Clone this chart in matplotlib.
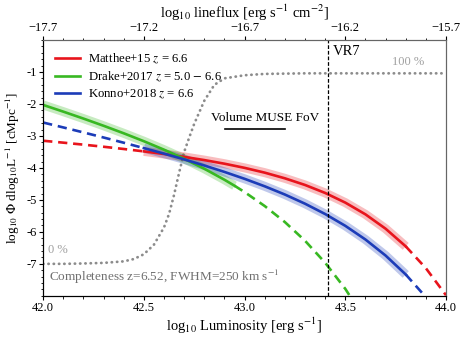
import numpy as np
import matplotlib
matplotlib.use("Agg")
import matplotlib.pyplot as plt
from matplotlib.ticker import MultipleLocator

plt.rcParams['font.family'] = 'serif'
plt.rcParams['font.serif'] = ['Liberation Serif', 'DejaVu Serif']
plt.rcParams['mathtext.fontset'] = 'stix'

# luminosity grid (log10 L) where the curves were read
lum = [42.0, 42.1, 42.2, 42.3, 42.4, 42.5, 42.6, 42.7, 42.8, 42.9, 43.0,
       43.1, 43.2, 43.3, 43.4, 43.5, 43.6, 43.7, 43.8, 43.9, 44.0]

# log10 Phi
matthee = [-3.150, -3.210, -3.272, -3.338, -3.408, -3.483, -3.565, -3.655,
           -3.755, -3.868, -3.998, -4.148, -4.325, -4.533, -4.783, -5.085,
           -5.452, -5.901, -6.453, -7.136, -7.982]
konno = [-2.580, -2.734, -2.890, -3.049, -3.212, -3.380, -3.553, -3.733,
         -3.923, -4.125, -4.341, -4.575, -4.832, -5.119, -5.442, -5.811,
         -6.239, -6.740, -7.332, -8.041, -8.895]

lum_drake = [42.0, 42.1, 42.2, 42.3, 42.4, 42.5, 42.6, 42.7, 42.8, 42.9,
             42.95, 43.0, 43.1, 43.2, 43.3, 43.4, 43.5, 43.6]
drake = [-2.030, -2.240, -2.457, -2.682, -2.917, -3.165, -3.430, -3.715,
         -4.026, -4.370, -4.557, -4.755, -5.192, -5.693, -6.277, -6.965,
         -7.782, -8.763]

# completeness curve (fraction), drawn scaled between -7 (0 %) and -1 (100 %)
lum_comp = [42.0, 42.1, 42.2, 42.3, 42.4, 42.45, 42.5, 42.55, 42.6, 42.625,
            42.65, 42.675, 42.7, 42.725, 42.75, 42.775, 42.8, 42.85, 42.9,
            43.0, 43.1, 43.3, 44.0]
completeness = [0.0, 0.0, 0.002, 0.005, 0.013, 0.025, 0.05, 0.10, 0.19, 0.26,
                0.36, 0.475, 0.583, 0.658, 0.73, 0.79, 0.85, 0.933, 0.967,
                0.983, 0.99, 0.993, 0.993]

vr7_lum = 43.415
flux_offset = 59.7

series = [
    ("Matthee+15 $z$ = 6.6", lum, matthee, '#e8141c', (42.5, 43.8)),
    ("Drake+2017 $z$ = 5.0 $-$ 6.6", lum_drake, drake, '#38b822', (42.0, 42.95)),
    ("Konno+2018 $z$ = 6.6", lum, konno, '#1c3cb8', (42.5, 43.8)),
]

fig = plt.figure(figsize=(4.69, 3.42), dpi=100)
ax = fig.add_axes([0.092, 0.135, 0.859, 0.748])

for label, x, y, col, (lo, hi) in series:
    x = np.array(x)
    y = np.array(y)
    solid = (x >= lo - 1e-9) & (x <= hi + 1e-9)
    low = x <= lo + 1e-9
    high = x >= hi - 1e-9
    ax.plot(x[solid], y[solid], color=col, lw=6.5, alpha=0.28,
            solid_capstyle='butt', zorder=2)
    ax.plot(x[solid], y[solid], color=col, lw=1.9, label=label, zorder=3)
    if low.sum() > 1:
        ax.plot(x[low], y[low], color=col, lw=1.9, ls=(0, (3.5, 2.2)), zorder=3)
    if high.sum() > 1:
        ax.plot(x[high], y[high], color=col, lw=1.9, ls=(0, (3.5, 2.2)), zorder=3)

comp_y = [6 * c - 7 for c in completeness]
ax.plot(lum_comp, comp_y, color='#8c8c8c', lw=2.0, ls=(0, (0.1, 1.8)),
        dash_capstyle='round', zorder=1)

ax.axvline(vr7_lum, color='k', lw=0.9, ls=(0, (3, 1.5)), zorder=4)
ax.text(43.44, -0.37, "VR7", fontsize=10.5, va='center', ha='left')
ax.text(43.81, -0.68, "100 %", fontsize=9, color='#a0a0a0', va='center', ha='center')
ax.text(42.025, -6.58, "0 %", fontsize=9, color='#a0a0a0', va='center', ha='left')
ax.text(42.03, -7.40, "Completeness z=6.52, FWHM=250 km s$^{-1}$", fontsize=9.5,
        color='#707070', va='center', ha='left')
ax.text(43.1, -2.45, "Volume MUSE FoV", fontsize=9.5, va='center', ha='center')
ax.plot([42.903, 43.201], [-2.78, -2.78], color='k', lw=1.2)

ax.set_xlim(42.0, 44.0)
ax.set_ylim(-8, 0)
ax.set_xticks([42.0, 42.5, 43.0, 43.5, 44.0])
ax.set_xticklabels(["42.0", "42.5", "43.0", "43.5", "44.0"])
ax.xaxis.set_minor_locator(MultipleLocator(0.1))
ax.set_yticks([-1, -2, -3, -4, -5, -6, -7])
ax.set_yticklabels(["-1", "-2", "-3", "-4", "-5", "-6", "-7"])
ax.yaxis.set_minor_locator(MultipleLocator(0.2))
ax.tick_params(labelsize=9, direction='out', length=3, pad=1.5)
ax.tick_params(which='minor', length=1.8)
ax.tick_params(top=False, right=False)
ax.spines['top'].set_color('#666666')
ax.spines['right'].set_color('#666666')

ax.set_xlabel("log$_{10}$ Luminosity [erg s$^{-1}$]", fontsize=10.5, labelpad=1)
ax.set_ylabel("log$_{10}$ $\\Phi$ dlog$_{10}$L$^{-1}$ [cMpc$^{-1}$]", fontsize=9.5,
              labelpad=3)

# lineflux axis on top: same scale, shifted by the distance modulus
top = ax.twiny()
top.set_xlim(42.0 - flux_offset, 44.0 - flux_offset)
top.set_xticks([-17.7, -17.2, -16.7, -16.2, -15.7])
top.xaxis.set_minor_locator(MultipleLocator(0.1))
top.tick_params(labelsize=9, direction='out', length=3, pad=1.5)
top.tick_params(which='minor', length=1.8)
top.spines['top'].set_color('#666666')
top.spines['right'].set_color('#666666')
top.set_xlabel("log$_{10}$ lineflux [erg s$^{-1}$ cm$^{-2}$]", fontsize=10.5, labelpad=2.5)

ax.legend(loc='upper left', frameon=False, fontsize=9.2, handlelength=2.0,
          handletextpad=0.6, borderaxespad=0.5, labelspacing=0.3)

fig.savefig("out.png", dpi=100)
